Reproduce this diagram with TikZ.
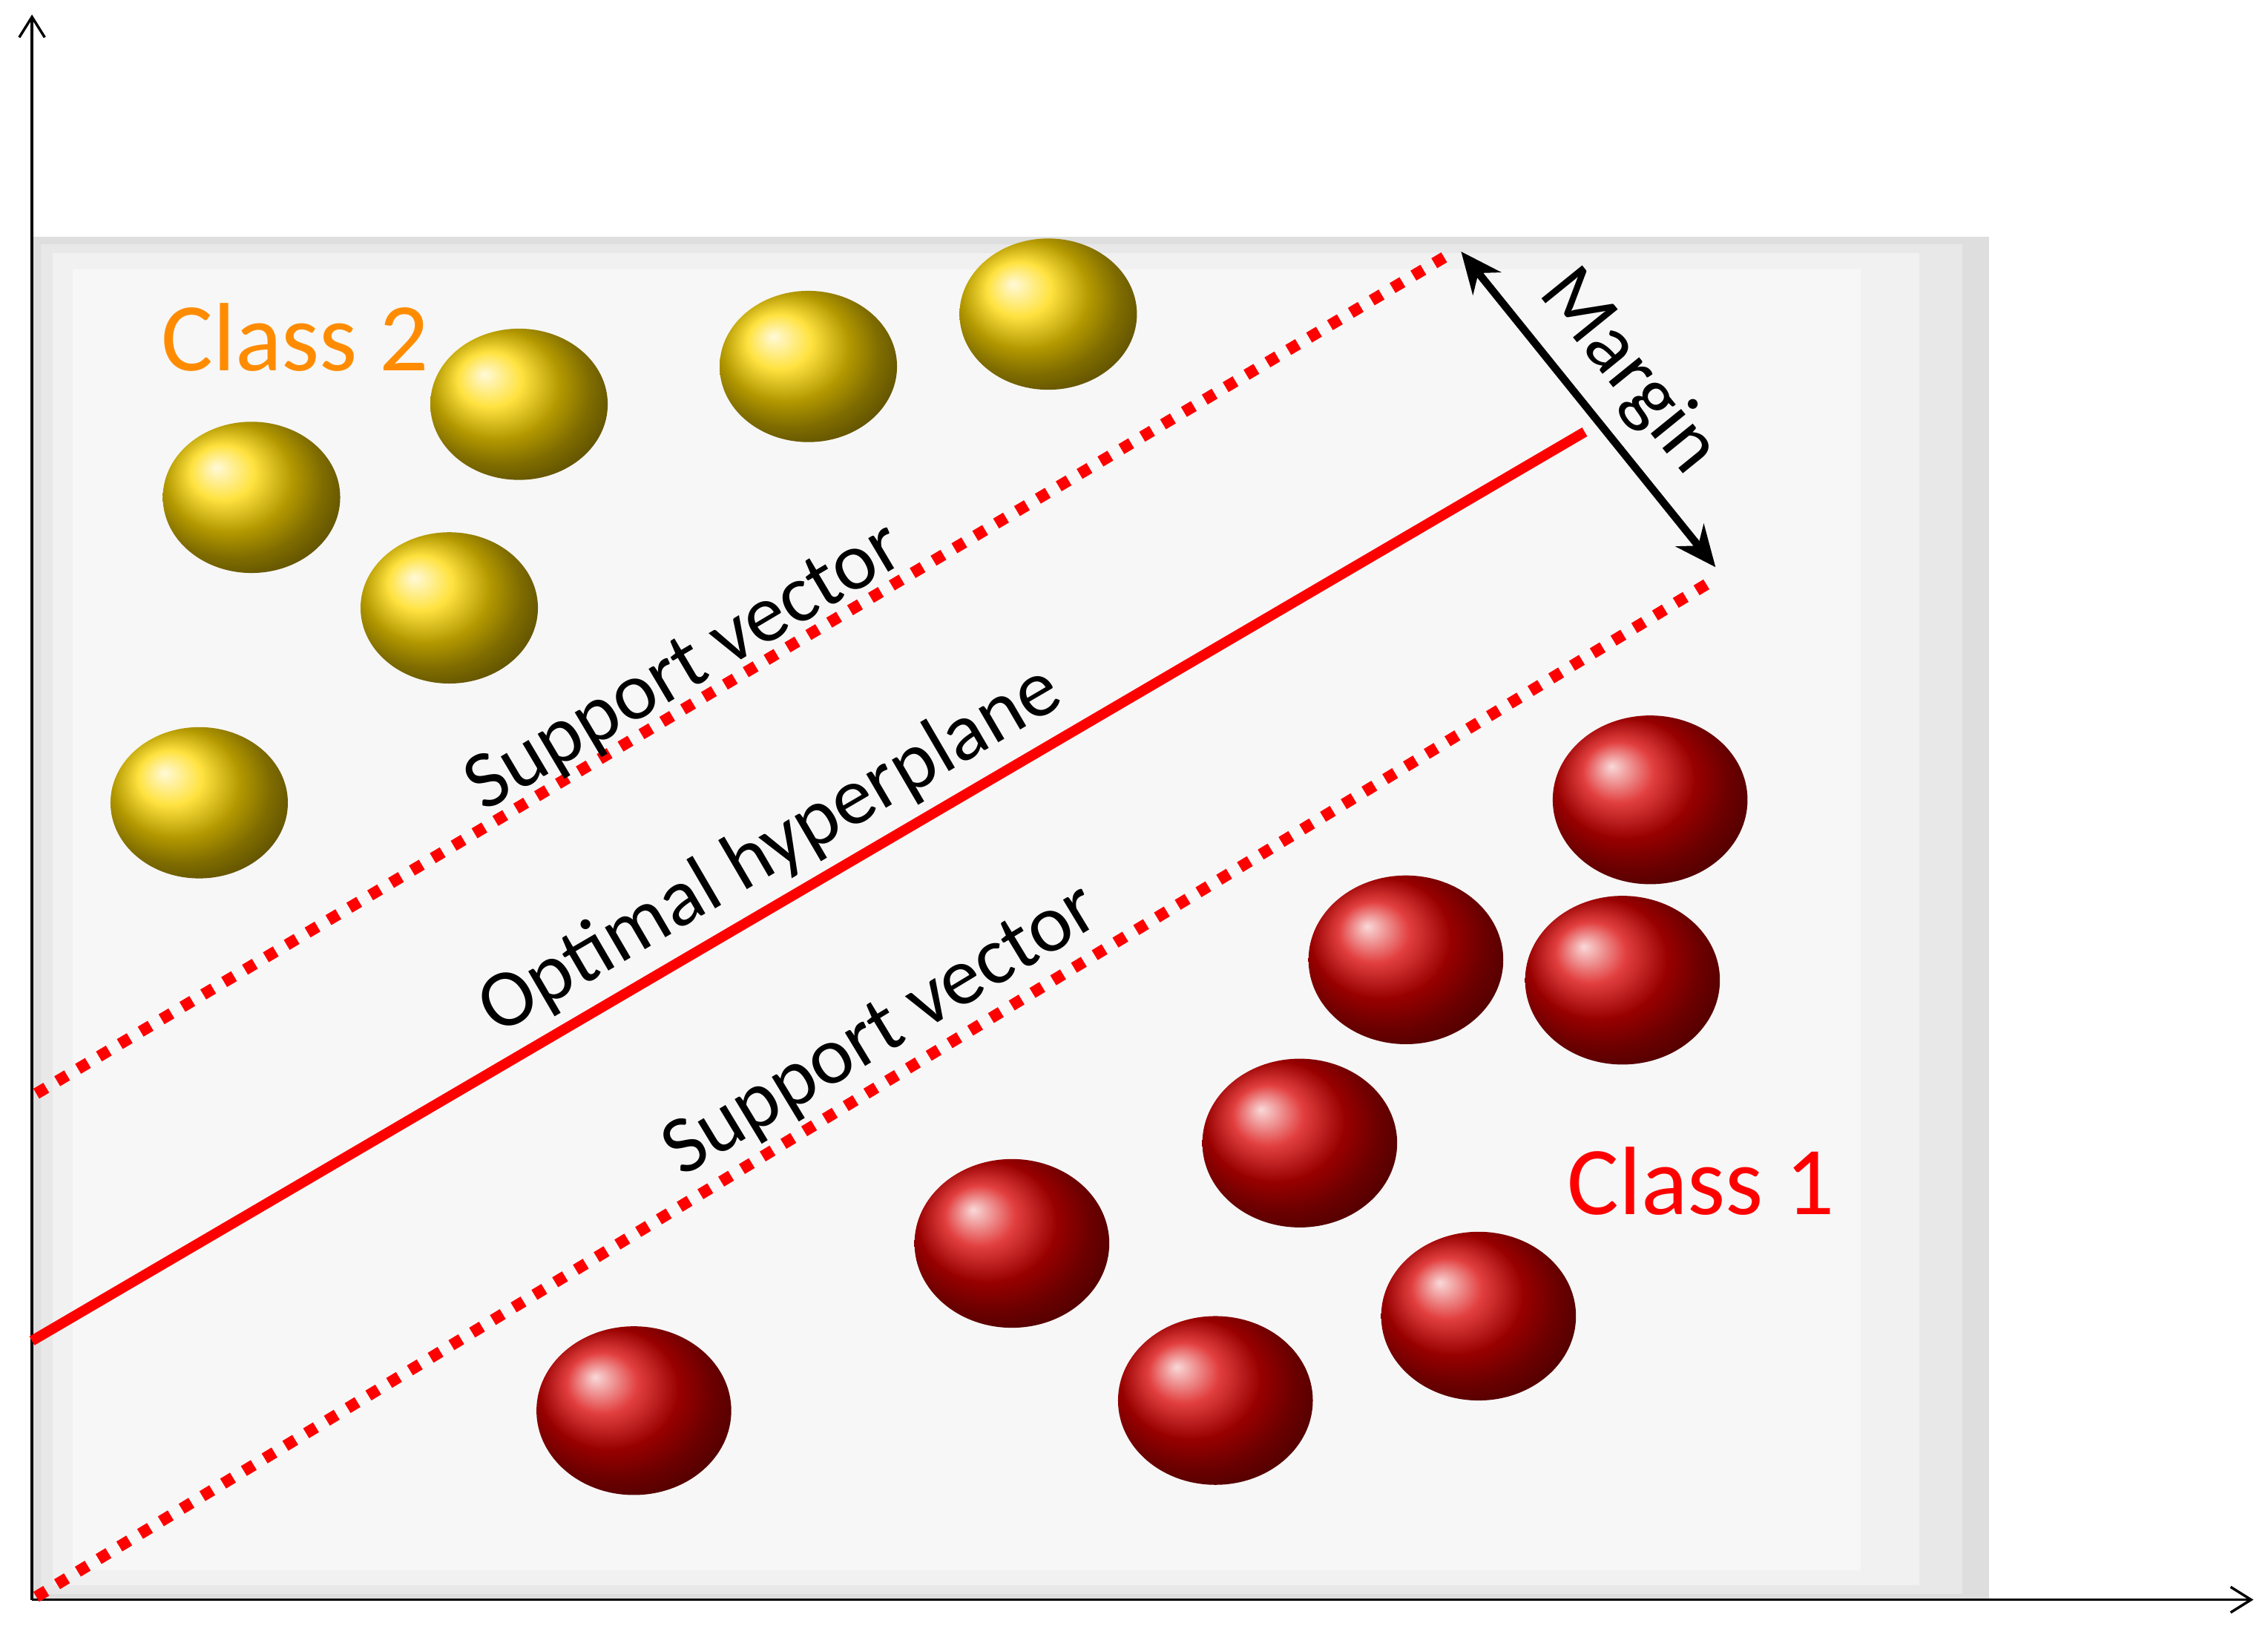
\documentclass[tikz,border=0pt]{standalone}
\usepackage{fontspec}
\setmainfont{Carlito}
\usetikzlibrary{arrows.meta}
\begin{document}
\begin{tikzpicture}[x=0.02cm,y=-0.02cm,
  axis/.style={line width=1pt,-{Straight Barb[length=8pt,width=10pt]}},
  sv/.style={red,line width=4.5pt,dash pattern=on 4.5pt off 5pt},
  hp/.style={red,line width=4pt},
  lab/.style={font=\fontsize{32}{36}\selectfont,anchor=center},
  cls/.style={font=\fontsize{38}{42}\selectfont},
  gold/.style={ball color=yellow!70!orange},
  redb/.style={ball color=red!85!black}]
\useasboundingbox (0,0) rectangle (1560,1118);
\fill[gray!26] (22,163) rectangle (1368,1100);
\fill[gray!18] (28,168) rectangle (1350,1096);
\fill[gray!11] (36,174) rectangle (1320,1090);
\fill[gray!6] (50,185) rectangle (1280,1080);
\coordinate (O) at (22,1100);
\coordinate (Ytop) at (22,10);
\coordinate (Xend) at (1550,1100);
\draw[axis] (O) -- (Ytop);
\draw[axis] (O) -- (Xend);
% spheres
\foreach \x/\y in {173/342,357/278,556/252,721/216,309/418,137/552}
  \shade[gold] (\x,\y) ellipse [x radius=61, y radius=52];
\foreach \x/\y in {1135/550,967/660,1116/674,894/786,696/855,1017/905,836/963,436/970}
  \shade[redb] (\x,\y) ellipse [x radius=67, y radius=58];
% lines
\coordinate (a1) at (25,752); \coordinate (a2) at (1000,173);
\coordinate (b1) at (22,922); \coordinate (b2) at (1090,297);
\coordinate (c1) at (25,1098); \coordinate (c2) at (1180,398);
\draw[sv] (a1) -- (a2);
\draw[hp] (b1) -- (b2);
\draw[sv] (c1) -- (c2);
\coordinate (m1) at (1005,173); \coordinate (m2) at (1180,390);
\draw[line width=3pt,{Stealth[length=16pt,width=14pt]}-{Stealth[length=16pt,width=14pt]}] (m1) -- (m2);
\node[lab,rotate=-51] (margin) at (1120,256) {Margin};
\node[lab,rotate=30.7] (sv1) at (472,460) {Support vector};
\node[lab,rotate=30.3] (oh) at (530,585) {Optimal hyperplane};
\node[lab,rotate=31.2] (sv2) at (607,710) {Support vector};
\node[cls,text=orange!90!yellow] (c2l) at (203,232) {Class 2};
\node[cls,text=red] (c1l) at (1170,812) {Class 1};
\end{tikzpicture}
\end{document}
